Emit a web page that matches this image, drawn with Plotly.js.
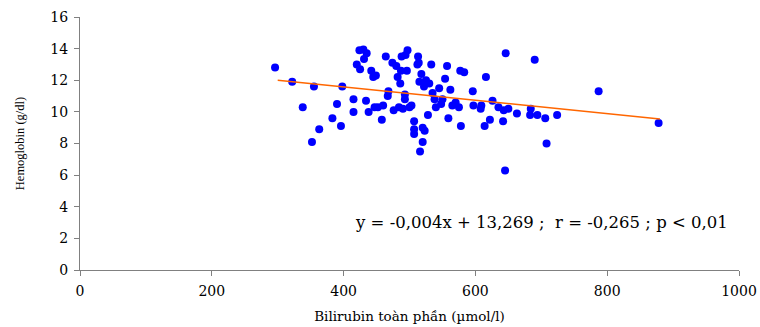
<!DOCTYPE html>
<html>
<head>
<meta charset="utf-8">
<script src="https://cdn.plot.ly/plotly-3.0.1.min.js"></script>
<style>html,body{margin:0;padding:0;background:#fff}#chart{width:760px;height:327px}</style>
</head>
<body>
<div id="chart"></div>
<script>
// Bilirubin toàn phần (µmol/l)
const bilirubin = [296,322,338,352,355,363,383,390,396,398,415,415,420,424,425,430,431,435,434,438,442,445,449,447,452,458,460,464,467,468,474,476,480,482,484,486,487,488,490,493,494,496,497,493,500,503,507,507,507,513,514,515,512,518,520,516,520,523,525,528,522,530,533,535,538,540,545,548,550,554,557,559,562,565,570,575,577,578,583,596,597,608,609,614,616,622,626,635,642,643,646,645,650,663,683,684,690,694,706,708,724,787,878];
// Hemoglobin (g/dl)
const hemoglobin = [12.8,11.9,10.3,8.1,11.6,8.9,9.6,10.5,9.1,11.6,10.8,10.0,13.0,13.9,12.7,13.95,13.35,13.7,10.7,10.0,12.6,12.2,12.3,10.3,10.3,9.5,10.4,13.5,11.0,11.3,13.1,10.1,12.9,12.2,10.3,11.8,12.6,13.5,10.2,11.1,13.6,12.6,13.9,10.8,10.3,10.4,9.4,8.9,8.6,13.5,13.1,11.9,13.0,12.4,8.1,7.5,9.0,8.8,12.0,9.8,11.6,11.8,13.0,11.2,10.8,10.3,11.5,10.5,10.8,12.1,12.9,9.6,11.4,10.4,10.6,10.3,12.6,9.1,12.5,11.3,10.4,10.2,10.4,9.1,12.2,9.5,10.7,10.3,9.4,10.1,13.7,6.3,10.2,9.9,9.8,10.2,13.3,9.8,9.6,8.0,9.8,11.3,9.3];
// Regression line endpoints as drawn
const lineX = [300, 880];
const lineY = [12.0, 9.55];
const xTicks = [0, 200, 400, 600, 800, 1000];
const yTicks = [0, 2, 4, 6, 8, 10, 12, 14, 16];
const equationText = "y = -0,004x + 13,269 ;  r = -0,265 ; p < 0,01";

const font = "DejaVu Serif, serif";
const data = [
  {x: bilirubin, y: hemoglobin, type: 'scatter', mode: 'markers',
   marker: {color: '#0000FF', size: 8}, hoverinfo: 'x+y'},
  {x: lineX, y: lineY, type: 'scatter', mode: 'lines',
   line: {color: '#FF6600', width: 1.5}}
];
const layout = {
  width: 760, height: 327,
  margin: {l: 80, r: 21, t: 17, b: 57},
  showlegend: false,
  paper_bgcolor: '#fff', plot_bgcolor: '#fff',
  font: {family: font, color: '#000', size: 14},
  xaxis: {range: [0, 1000], tickvals: xTicks, ticktext: xTicks.map(String),
    showgrid: false, zeroline: false, showline: true, linecolor: '#808080', linewidth: 1,
    ticks: 'outside', ticklen: 5, tickcolor: '#808080', ticklabelstandoff: 3,
    tickfont: {family: font, size: 14},
    title: {text: 'Bilirubin toàn phần (µmol/l)', font: {family: font, size: 13.5}, standoff: 13}},
  yaxis: {range: [0, 16], tickvals: yTicks, ticktext: yTicks.map(String),
    showgrid: false, zeroline: false, showline: true, linecolor: '#808080', linewidth: 1,
    ticks: 'outside', ticklen: 5, tickcolor: '#808080', ticklabelstandoff: 3,
    tickfont: {family: font, size: 14},
    title: {text: 'Hemoglobin (g/dl)', font: {family: 'Liberation Serif, serif', size: 12.5}, standoff: 22}},
  annotations: [{x: 700, y: 3.0, xref: 'x', yref: 'y', text: equationText, showarrow: false,
    font: {family: font, size: 16.5, color: '#000'}}]
};
Plotly.newPlot('chart', data, layout, {displayModeBar: false, staticPlot: true});
</script>
</body>
</html>
